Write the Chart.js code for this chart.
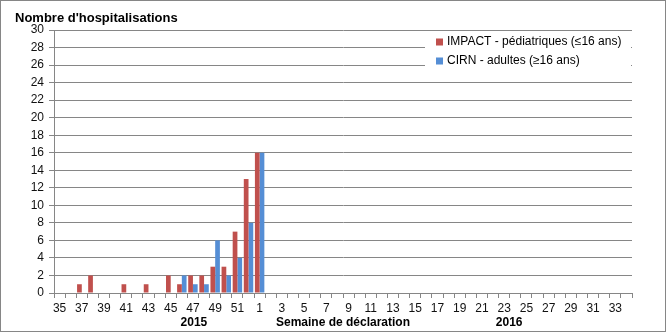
<!DOCTYPE html>
<html>
<head>
<meta charset="utf-8">
<script src="https://cdn.jsdelivr.net/npm/chart.js@4.4.1/dist/chart.umd.min.js"></script>
<style>
  body { margin: 0; background: #fff; }
</style>
</head>
<body>
<canvas id="barChart" width="666" height="332"></canvas>
<script>
// semaines 35-52 (2015) puis 1-34 (2016)
var weeks = ['35', '36', '37', '38', '39', '40', '41', '42', '43', '44', '45', '46', '47', '48', '49', '50', '51', '52',
             '1', '2', '3', '4', '5', '6', '7', '8', '9', '10', '11', '12', '13', '14', '15', '16', '17',
             '18', '19', '20', '21', '22', '23', '24', '25', '26', '27', '28', '29', '30', '31', '32', '33', '34'];
var impact = [0, 0, 1, 2, 0, 0, 1, 0, 1, 0, 2, 1, 2, 2, 3, 3, 7, 13,
              16, 0, 0, 0, 0, 0, 0, 0, 0, 0, 0, 0, 0, 0, 0, 0, 0,
              0, 0, 0, 0, 0, 0, 0, 0, 0, 0, 0, 0, 0, 0, 0, 0, 0];
var cirn = [0, 0, 0, 0, 0, 0, 0, 0, 0, 0, 0, 2, 1, 1, 6, 2, 4, 8,
            16, 0, 0, 0, 0, 0, 0, 0, 0, 0, 0, 0, 0, 0, 0, 0, 0,
            0, 0, 0, 0, 0, 0, 0, 0, 0, 0, 0, 0, 0, 0, 0, 0, 0];
var yTicks = [0, 2, 4, 6, 8, 10, 12, 14, 16, 18, 20, 22, 24, 26, 28, 30];
var yTitle = "Nombre d'hospitalisations";
var xTitle = 'Semaine de déclaration';
var years = ['2015', '2016'];

var fontFam = "'Liberation Sans', Arial, sans-serif";
var gridGrey = '#868686';
Chart.defaults.font.family = fontFam;
Chart.defaults.color = '#111';

var extras = {
    id: 'extras',
    afterDraw: function (chart) {
        var c = chart.ctx;
        var x = chart.scales.x;
        var a = chart.chartArea;
        c.save();
        c.strokeStyle = gridGrey;
        c.lineWidth = 1;
        c.strokeRect(0.5, 0.5, chart.width - 1, chart.height - 1);

        c.fillStyle = '#000';
        c.textBaseline = 'middle';
        c.textAlign = 'left';
        c.font = 'bold 13px ' + fontFam;
        c.fillText(yTitle, 15, 18);

        // années sous l'axe
        c.font = 'bold 12px ' + fontFam;
        c.textAlign = 'center';
        c.fillText(years[0], x.getPixelForValue(12) + 1, 323);
        c.fillText(years[1], x.getPixelForValue(40) + 5, 323);

        // légende dans la zone du graphique
        var lx = a.right - 207;
        c.fillStyle = '#fff';
        c.fillRect(lx, a.top + 3, 206, 43);
        c.font = '12px ' + fontFam;
        c.textAlign = 'left';
        chart.data.datasets.forEach(function (ds, i) {
            var y = a.top + 12 + i * 19;
            c.fillStyle = ds.backgroundColor;
            c.fillRect(lx + 11, y - 3.5, 7, 7);
            c.fillStyle = '#000';
            c.fillText(ds.label, lx + 22, y);
        });
        c.restore();
    }
};

var ctx = document.getElementById('barChart').getContext('2d');
var myChart = new Chart(ctx, {
    type: 'bar',
    data: {
        labels: weeks,
        datasets: [
            {
                label: 'IMPACT - pédiatriques (≤16 ans)',
                data: impact,
                backgroundColor: '#C0504D',
                barPercentage: 1,
                categoryPercentage: 0.85
            },
            {
                label: 'CIRN - adultes (≥16 ans)',
                data: cirn,
                backgroundColor: '#558ED5',
                barPercentage: 1,
                categoryPercentage: 0.85
            }
        ]
    },
    options: {
        responsive: false,
        animation: false,
        layout: { padding: { left: 0, top: 30, right: 34, bottom: 0 } },
        plugins: {
            legend: { display: false },
            tooltip: { enabled: false }
        },
        scales: {
            x: {
                offset: true,
                afterFit: function (s) { s.height = 39; },
                grid: { offset: true, drawOnChartArea: false, tickLength: 5, color: gridGrey },
                border: { color: gridGrey },
                ticks: {
                    autoSkip: false,
                    maxRotation: 0,
                    padding: 3,
                    font: { size: 12 },
                    callback: function (v, i) { return i % 2 === 0 ? weeks[i] : ''; }
                },
                title: {
                    display: true,
                    text: xTitle,
                    font: { size: 12, weight: 'bold' },
                    color: '#000',
                    padding: { top: 0, bottom: 2 }
                }
            },
            y: {
                min: 0,
                max: 30,
                afterFit: function (s) { s.width = 54; },
                afterBuildTicks: function (s) { s.ticks = yTicks.map(function (v) { return { value: v }; }); },
                grid: { color: gridGrey, tickLength: 5 },
                border: { color: gridGrey },
                ticks: { padding: 5, font: { size: 12 } }
            }
        }
    },
    plugins: [extras]
});
</script>
</body>
</html>
